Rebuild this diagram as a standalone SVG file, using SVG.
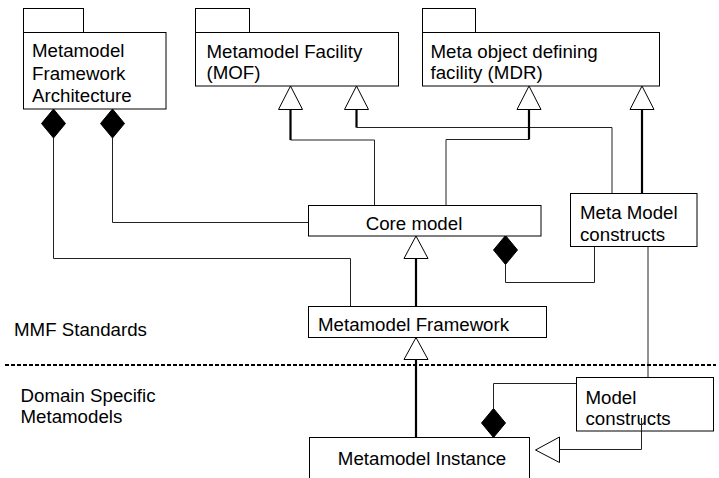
<svg xmlns="http://www.w3.org/2000/svg" width="719" height="478" viewBox="0 0 719 478">
<style>
.box{fill:#fff;stroke:#000;stroke-width:1}
.t{font-family:"Liberation Sans",Arial,sans-serif;font-size:18.7px;fill:#000}
.thin{fill:none;stroke:#222;stroke-width:1}
.thick{fill:none;stroke:#000;stroke-width:2.2}
.tri{fill:#fff;stroke:#000;stroke-width:1}
.dia{fill:#000;stroke:#000;stroke-width:1}
</style>
<rect width="719" height="478" fill="#fff"/>
<g id="connectors">
  <!-- MFA diamonds -->
  <polyline class="thin" points="53.5,138 53.5,258.5 350.5,258.5 350.5,306"/>
  <polygon class="dia" points="53.5,109 65.5,123.5 53.5,138 41.5,123.5"/>
  <polyline class="thin" points="112.5,138 112.5,222.5 308.5,222.5"/>
  <polygon class="dia" points="112.5,109 124.5,123.5 112.5,138 100.5,123.5"/>
  <!-- Core model to MOF -->
  <polyline class="thin" points="374.5,205.5 374.5,140 290.5,140"/>
  <polyline class="thick" points="290.5,140 290.5,109"/>
  <polygon class="tri" points="290.5,86 302.5,109.5 278.5,109.5"/>
  <!-- Meta Model constructs to MOF -->
  <polyline class="thin" points="612,193.5 612,127.5 356.5,127.5"/>
  <polyline class="thick" points="356.5,127.5 356.5,109"/>
  <polygon class="tri" points="356.5,86 368.5,109.5 344.5,109.5"/>
  <!-- Core model to MDR -->
  <polyline class="thin" points="446,205.5 446,139.5 529,139.5"/>
  <polyline class="thick" points="529,139.5 529,109"/>
  <polygon class="tri" points="529,86 541,109.5 517,109.5"/>
  <!-- Meta Model constructs to MDR -->
  <polyline class="thick" points="642,193.5 642,109"/>
  <polygon class="tri" points="642,86 654,109.5 630,109.5"/>
  <!-- Metamodel Framework to Core model -->
  <polyline class="thick" points="416,306.5 416,258"/>
  <polygon class="tri" points="416,236 428,258.5 404,258.5"/>
  <!-- Meta Model constructs composed in Core model -->
  <polyline class="thin" points="594.5,246.5 594.5,282.5 505.5,282.5 505.5,264"/>
  <polygon class="dia" points="505.5,235.5 517.5,250 505.5,264.5 493.5,250"/>
  <!-- Meta Model constructs to Model constructs -->
  <polyline class="thin" points="648,246.5 648,377.5"/>
  <!-- Model constructs composed in Metamodel Instance -->
  <polyline class="thin" points="576.5,383.5 493.5,383.5 493.5,408.5"/>
  <polygon class="dia" points="493.5,408.5 505.5,423 493.5,437.5 481.5,423"/>
  <!-- Model constructs generalizes to Metamodel Instance -->
  <polyline class="thin" points="641.5,418 641.5,449.5 559.5,449.5"/>
  <polygon class="tri" points="535.5,450 559.5,437 559.5,462.5"/>
  <!-- Metamodel Instance to Metamodel Framework -->
  <polyline class="thick" points="416,437.5 416,359"/>
  <polygon class="tri" points="416,337.5 428,359.5 404,359.5"/>
</g>
<g id="separator">
  <line x1="5" y1="365" x2="716" y2="365" stroke="#000" stroke-width="2" stroke-dasharray="4 2"/>
  <text class="t" x="14" y="336">MMF Standards</text>
  <text class="t" x="20.5" y="401.5">Domain Specific</text>
  <text class="t" x="20.5" y="423">Metamodels</text>
</g>
<g id="mfa">
  <rect class="box" x="23.5" y="8.5" width="60" height="24"/>
  <rect class="box" x="23.5" y="32.5" width="142.5" height="76.5"/>
  <text class="t" x="32" y="57">Metamodel</text>
  <text class="t" x="32" y="79.5">Framework</text>
  <text class="t" x="32" y="102">Architecture</text>
</g>
<g id="mof">
  <rect class="box" x="195.5" y="8.5" width="54" height="24"/>
  <rect class="box" x="195.5" y="32.5" width="203" height="53.5"/>
  <text class="t" x="206.5" y="58">Metamodel Facility</text>
  <text class="t" x="206.5" y="79">(MOF)</text>
</g>
<g id="mdr">
  <rect class="box" x="422.5" y="8.5" width="53" height="24"/>
  <rect class="box" x="422.5" y="32.5" width="237" height="53.5"/>
  <text class="t" x="430.5" y="58">Meta object defining</text>
  <text class="t" x="430.5" y="79">facility (MDR)</text>
</g>
<g id="core">
  <rect class="box" x="308.5" y="205.5" width="232.5" height="30.5"/>
  <text class="t" x="414" y="230" text-anchor="middle">Core model</text>
</g>
<g id="mmc">
  <rect class="box" x="570.5" y="193.5" width="126.5" height="53"/>
  <text class="t" x="580" y="218.5">Meta Model</text>
  <text class="t" x="580" y="240.5">constructs</text>
</g>
<g id="mf">
  <rect class="box" x="308.5" y="306.5" width="238" height="31"/>
  <text class="t" x="318" y="331">Metamodel Framework</text>
</g>
<g id="mc">
  <rect class="box" x="576.5" y="377.5" width="137" height="53.5"/>
  <text class="t" x="585.5" y="404">Model</text>
  <text class="t" x="585.5" y="425">constructs</text>
  <line x1="641.5" y1="418" x2="641.5" y2="431" stroke="#222" stroke-width="1"/>
</g>
<g id="mi">
  <rect class="box" x="309.5" y="437.5" width="220" height="50"/>
  <text class="t" x="422" y="465" text-anchor="middle">Metamodel Instance</text>
</g>
</svg>
